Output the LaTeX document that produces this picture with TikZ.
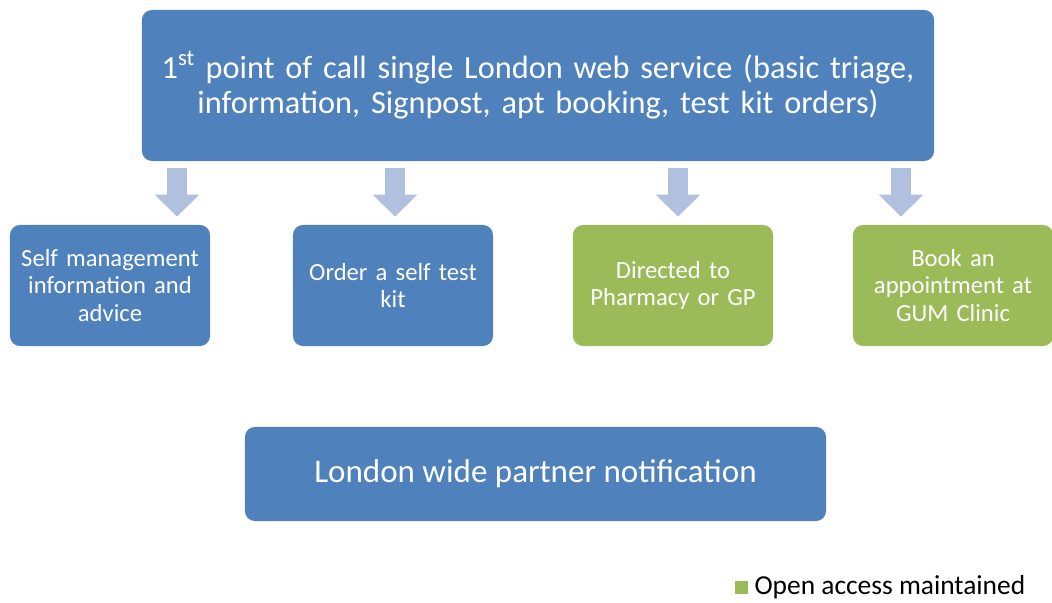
\documentclass[tikz,border=0pt]{standalone}
\usepackage{fontspec}
\setmainfont{Carlito}
\usetikzlibrary{arrows.meta}
\definecolor{boxblue}{HTML}{4F81BD}
\definecolor{boxgreen}{HTML}{9BBB59}
\definecolor{arrowblue}{HTML}{B0C0DE}
\begin{document}
\begin{tikzpicture}[x=0.025cm,y=-0.025cm,
  box/.style={rounded corners=0.25cm, fill=boxblue, text=white, align=center, inner sep=0pt},
  openbox/.style={box, fill=boxgreen},
  smallbox/.style={minimum width=5cm, minimum height=3.025cm, text width=4.9cm, font=\fontsize{17.5}{19.3}\selectfont},
  flow/.style={arrowblue, line width=0.5cm, -{Triangle[width=1.075cm,length=0.55cm]}, shorten <=0.175cm, shorten >=0.2cm}]

\useasboundingbox (0,0) rectangle (1052,603);

\node [box, minimum width=19.8cm, minimum height=3.775cm, text width=19.6cm,
  font=\fontsize{23}{25}\selectfont] (web) at (538,85.5)
  {1\textsuperscript{st} point of call single London web service (basic triage,\\
   information, Signpost, apt booking, test kit orders)};

\node [box, smallbox] (self) at (110,285.5) {Self management\\ information and\\ advice};
\node [box, smallbox] (kit) at (393,285.5) {Order a self test\\ kit};
\node [openbox, smallbox] (pharm) at (673,285.5) {Directed to\\ Pharmacy or GP};
\node [openbox, smallbox] (gum) at (953,285.5) {Book an\\ appointment at\\ GUM Clinic};

\node [box, minimum width=14.525cm, minimum height=2.35cm,
  font=\fontsize{23.5}{25}\selectfont] (partner) at (535.5,474) {London wide partner notification};

\coordinate (a1) at (177,161);
\coordinate (a2) at (395,161);
\coordinate (a3) at (678,161);
\coordinate (a4) at (901,161);

\draw [flow] (a1) -- (a1 |- self.north);
\draw [flow] (a2) -- (a2 |- kit.north);
\draw [flow] (a3) -- (a3 |- pharm.north);
\draw [flow] (a4) -- (a4 |- gum.north);

\node [fill=boxgreen, minimum size=0.325cm, inner sep=0pt] (key) at (741.5,587) {};
\node [right=0.15cm, inner sep=0pt, font=\fontsize{19.5}{22}\selectfont] (keytext) at (key.east) {Open access maintained};
\end{tikzpicture}
\end{document}
